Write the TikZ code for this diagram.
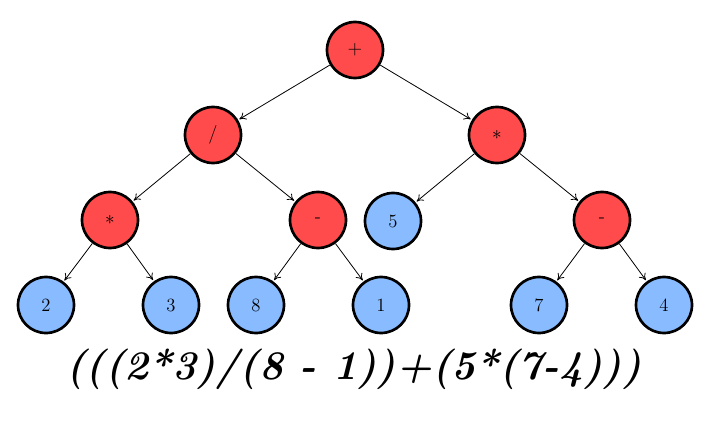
\documentclass[tikz,border=0pt]{standalone}
\usetikzlibrary{arrows.meta}
\definecolor{opred}{RGB}{255,75,75}
\definecolor{leafblue}{RGB}{136,187,255}
\begin{document}
\begin{tikzpicture}[x=0.75pt,y=-0.75pt,
  opnode/.style={circle,draw=black,line width=2pt,fill=opred,minimum size=42pt,inner sep=0pt,font=\fontsize{14}{16}\selectfont},
  leafnode/.style={circle,draw=black,line width=2pt,fill=leafblue,minimum size=42pt,inner sep=0pt,font=\fontsize{14}{16}\selectfont},
  edge/.style={-{To[length=5pt,width=6pt]},line width=0.6pt,shorten >=1pt}]
\useasboundingbox (0,0) rectangle (727,431);
\node[opnode] (root) at (355,50) {$+$};
\node[opnode] (div) at (213,135) {/};
\node[opnode] (mulR) at (497,135) {$*$};
\node[opnode] (mulL) at (110,220) {$*$};
\node[opnode] (subL) at (318,220) {-};
\node[leafnode] (five) at (393,221) {5};
\node[opnode] (subR) at (602,220) {-};
\node[leafnode] (two) at (46,305) {2};
\node[leafnode] (three) at (171,305) {3};
\node[leafnode] (eight) at (256,305) {8};
\node[leafnode] (one) at (381,305) {1};
\node[leafnode] (seven) at (539,305) {7};
\node[leafnode] (four) at (664,305) {4};
\draw[edge] (root) -- (div);
\draw[edge] (root) -- (mulR);
\draw[edge] (div) -- (mulL);
\draw[edge] (div) -- (subL);
\draw[edge] (mulR) -- (five);
\draw[edge] (mulR) -- (subR);
\draw[edge] (mulL) -- (two);
\draw[edge] (mulL) -- (three);
\draw[edge] (subL) -- (eight);
\draw[edge] (subL) -- (one);
\draw[edge] (subR) -- (seven);
\draw[edge] (subR) -- (four);
\node (expr) at (354,369) {\fontsize{30.5}{34}\selectfont\bfseries\itshape (((2*3)/(8 - 1))+(5*(7-4)))};
\end{tikzpicture}
\end{document}
